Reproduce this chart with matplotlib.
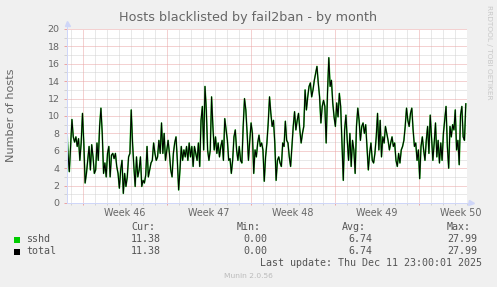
import numpy as np
import matplotlib
matplotlib.use('Agg')
import matplotlib.pyplot as plt
from matplotlib.patches import Rectangle

title = "Hosts blacklisted by fail2ban - by month"
ylabel = "Number of hosts"
week_labels = ["Week 46", "Week 47", "Week 48", "Week 49", "Week 50"]
week_starts = [0, 7, 14, 21, 28]   # days since Mon 10 Nov 2025

# hosts banned (roughly every 2.7 h)
hosts_a = [9.2, 5.7, 3.6, 6.5, 9.6, 7.6, 7.0, 7.6, 6.5, 7.4, 4.9, 6.9, 10.3, 6.9, 2.3, 3.4,
           4.9, 6.5, 3.8, 6.7, 5.3, 3.4, 3.8, 6.9, 4.9, 8.8, 10.9, 8.0, 3.4, 4.6, 3.0, 5.7,
           6.5, 3.0, 5.5, 5.7, 5.1, 5.7, 4.2, 3.4, 1.7, 3.8, 4.9, 1.1, 3.4, 1.9, 3.0, 5.3,
           5.7, 10.7, 6.9, 4.2, 1.9, 5.3, 3.0, 3.8, 5.3, 1.9, 2.6, 2.3, 3.2, 6.5, 3.0, 3.8,
           4.6, 4.9, 6.9, 5.7, 4.9, 5.3, 7.2, 5.7, 9.2, 5.7, 8.0, 4.9, 6.1, 7.2, 5.7, 3.8,
           3.0, 5.7, 6.9, 7.6, 4.9, 1.5, 3.8, 6.5, 4.9, 6.1, 5.3, 6.5, 4.9, 6.9, 5.3, 6.5,
           4.2, 6.5, 5.7, 4.9, 6.9, 4.2]
hosts_b = [9.5, 11.1, 6.1, 13.4, 10.7, 6.1, 4.9, 6.1, 12.2, 8.8, 6.1, 7.6, 5.7, 6.9, 5.3, 6.5,
           7.2, 4.9, 9.7, 8.4, 7.2, 4.9, 5.1, 3.4, 4.9, 7.6, 8.4, 6.1, 4.9, 6.5, 4.9, 4.6,
           8.8, 12.0, 10.7, 8.0, 4.9, 7.2, 9.2, 8.0, 3.4, 6.1, 5.3, 6.9, 7.8, 6.5, 6.9, 6.1,
           2.5, 5.3, 6.9, 9.2, 12.2, 10.3, 8.8, 9.5, 6.9, 2.6, 4.9, 5.3, 4.6, 4.2, 6.9, 6.5,
           9.4, 7.2, 6.9, 5.3, 4.2, 6.5, 8.8, 10.5, 8.4, 9.5, 10.3, 8.4, 6.9, 8.0, 8.8, 13.0,
           10.7, 12.2, 13.4, 13.8, 12.2, 13.0, 14.1, 14.9, 15.7, 13.8, 12.2, 9.2, 11.1, 11.8,
           11.1, 6.9, 12.6, 16.7, 13.4, 14.1, 11.5]
hosts_c = [9.9, 8.8, 11.5, 9.9, 12.6, 11.1, 6.9, 2.6, 8.4, 10.1, 7.2, 4.9, 8.0, 4.2, 7.2, 6.1,
           3.4, 8.8, 10.9, 9.5, 7.2, 8.8, 9.2, 8.0, 9.0, 6.5, 3.8, 5.7, 6.9, 4.9, 4.6, 5.7,
           7.6, 10.3, 6.1, 9.5, 5.3, 7.6, 6.9, 8.8, 8.0, 7.2, 6.1, 6.9, 7.6, 6.5, 6.9, 4.9,
           4.2, 5.7, 4.6, 6.1, 6.5, 7.2, 8.8, 10.9, 9.5, 8.8, 10.3, 10.9, 8.4, 6.5, 6.9, 4.9,
           6.1, 2.8, 6.5, 7.6, 6.1, 4.9, 7.2, 8.8, 5.7, 10.1, 7.6, 4.9, 6.9, 9.2, 5.3, 7.2,
           4.6, 6.9, 4.9, 8.0, 9.5, 11.1, 6.5, 4.0, 8.8, 7.6, 9.0, 8.4, 10.7, 6.1, 7.2, 4.4,
           10.1, 11.1, 7.6, 7.2, 11.4]

series = ["sshd", "total"]
series_colors = ["#00CC00", "#000000"]
cur = [11.38, 11.38]
vmin = [0.00, 0.00]
avg = [6.74, 6.74]
vmax = [27.99, 27.99]
last_update = "Last update: Thu Dec 11 23:00:01 2025"
version = "Munin 2.0.56"

hosts = np.array(hosts_a + hosts_b + hosts_c)
t = np.linspace(-1.36, 31.9, hosts.size)

W, H = 497, 287
FONT = '#666666'
AXIS = '#CFD6F8'
MGRID = '#EBA5A5'
GRID = '#D2D2D2'
DOT = (0, (1, 1))

fig = plt.figure(figsize=(W / 100, H / 100), dpi=100, facecolor='#F0F0F0')
ax = fig.add_axes([67 / W, 1 - 203 / H, 400 / W, 174 / H])
ax.set_facecolor('white')
ax.set_xlim(-4 / 3, 32)
ax.set_ylim(0, 20)

# grid, minor first then major
for d in range(-1, 33):
    major = (d % 7 == 0)
    ax.axvline(d, color=MGRID if major else GRID, lw=0.72, ls=DOT,
               zorder=2 if major else 1)
for v in range(1, 21):
    major = (v % 2 == 0)
    ax.axhline(v, color=MGRID if major else GRID, lw=0.72, ls=DOT,
               zorder=2 if major else 1)

# both series carry the same values, total drawn over sshd
ax.plot(t, hosts, color=series_colors[0], lw=1.15, zorder=3, alpha=0.8)
ax.plot(t, hosts, color=series_colors[1], lw=0.75, zorder=4)

for s in ['top', 'right']:
    ax.spines[s].set_visible(False)
for s in ['left', 'bottom']:
    ax.spines[s].set_color(AXIS)
    ax.spines[s].set_linewidth(0.72)
    ax.spines[s].set_zorder(5)
ax.plot([0, 0], [1, 1.03], color=AXIS, lw=0.72, transform=ax.transAxes, clip_on=False)
ax.plot([1, 1.008], [0, 0], color=AXIS, lw=0.72, transform=ax.transAxes, clip_on=False)
ax.plot([0], [1.034], marker='^', ms=3.6, color=AXIS, mec=AXIS, transform=ax.transAxes, clip_on=False)
ax.plot([1.009], [0], marker='>', ms=3.6, color=AXIS, mec=AXIS, transform=ax.transAxes, clip_on=False)

ax.set_yticks(range(0, 21, 2))
ax.set_yticks(range(0, 21), minor=True)
ax.set_xticks(week_starts)
ax.set_xticks(range(-1, 33), minor=True)
ax.set_xticklabels([])
ax.tick_params(axis='y', which='major', length=2.2, width=0.72, color=MGRID, pad=3,
               labelsize=6.8, labelcolor=FONT)
ax.tick_params(axis='y', which='minor', length=2.2, width=0.72, color=GRID)
ax.tick_params(axis='x', which='major', length=1.5, width=0.72, color=MGRID)
ax.tick_params(axis='x', which='minor', length=1.5, width=0.72, color=GRID)

for ws, lab in zip(week_starts, week_labels):
    ax.text(ws + 3.5, -9.7 / 174, lab, transform=ax.get_xaxis_transform(),
            ha='center', va='center', fontsize=6.9, color=FONT)

fig.text(248.5 / W, 1 - 18 / H, title, ha='center', va='center', fontsize=9.2, color=FONT)
fig.text(11 / W, 1 - 115 / H, ylabel, rotation=90, ha='center', va='center',
         fontsize=8.1, color=FONT)
fig.text(489 / W, 1 - 52 / H, "RRDTOOL / TOBI OETIKER", rotation=270, ha='center',
         va='center', fontsize=5.3, color='#C8C8C8')

# legend block
mono = dict(family='DejaVu Sans Mono', fontsize=7.2, color='#555555', va='center')
heads = ["Cur:", "Min:", "Avg:", "Max:"]
head_x = [155, 261, 366, 471]
val_x = [161, 267, 372, 477]
for hx, h in zip(head_x, heads):
    fig.text(hx / W, 1 - 227.5 / H, h, ha='right', **mono)
rows_y = [239.5, 251.5]
for i, name in enumerate(series):
    y = rows_y[i]
    fig.patches.append(Rectangle((14 / W, 1 - (y + 3) / H), 6 / W, 6 / H,
                                 transform=fig.transFigure, facecolor=series_colors[i],
                                 edgecolor='none'))
    fig.text(26 / W, 1 - y / H, name, ha='left', **mono)
    for vx, val in zip(val_x, [cur[i], vmin[i], avg[i], vmax[i]]):
        fig.text(vx / W, 1 - y / H, "%.2f" % val, ha='right', **mono)
fig.text(482 / W, 1 - 263.3 / H, last_update, ha='right', **mono)
fig.text(248 / W, 1 - 276.5 / H, version, ha='center', va='center', fontsize=5.4,
         color='#BBBBBB')

fig.savefig('out.png', dpi=100, facecolor=fig.get_facecolor())
